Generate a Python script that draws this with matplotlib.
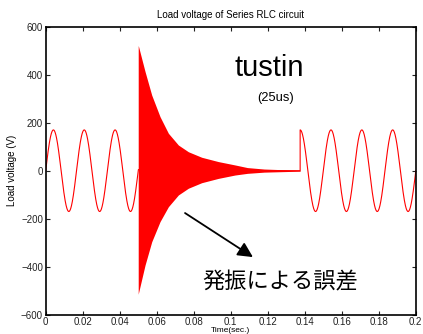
import numpy as np
import matplotlib
matplotlib.use("Agg")
import matplotlib.pyplot as plt

# ---- data ----
source_amplitude = 170.0      # V (peak of sine sections)
source_freq = 60.0            # Hz
seg1_range = (0.0, 0.05)      # s, sine before oscillation
seg2_range = (0.1375, 0.2)    # s, sine after oscillation

# envelope of the numerical oscillation (tustin, 25us)
env_t     = [0.0500, 0.0501, 0.0537, 0.0573, 0.0618, 0.0663, 0.0717, 0.0771,
             0.0843, 0.0933, 0.1023, 0.1090, 0.1180, 0.1325, 0.1375]
env_upper = [520, 520, 413, 315, 225, 156, 107, 79, 56, 38, 24, 13, 7, 3, 2]
env_lower = [-515, -511, -393, -296, -212, -150, -101, -73, -50, -32, -18, -11, -6, -3, -2]

xticks = [0, 0.02, 0.04, 0.06, 0.08, 0.1, 0.12, 0.14, 0.16, 0.18, 0.2]
xticklabels = ["0", "0.02", "0.04", "0.06", "0.08", "0.1", "0.12", "0.14", "0.16", "0.18", "0.2"]
yticks = [-600, -400, -200, 0, 200, 400, 600]
yticklabels = ["\u2212600", "\u2212400", "\u2212200", "0", "200", "400", "600"]

# ---- build series ----
t1 = np.linspace(seg1_range[0], seg1_range[1], 800)
v1 = source_amplitude * np.sin(2 * np.pi * source_freq * t1)
t2 = np.linspace(seg2_range[0], seg2_range[1], 1000)
v2 = source_amplitude * np.sin(2 * np.pi * source_freq * t2)
env_t_a = np.array(env_t)
env_mid = (np.array(env_upper) + np.array(env_lower)) / 2.0

plt.rcParams['font.family'] = ['Liberation Sans', 'DejaVu Sans']

fig = plt.figure(figsize=(4.23, 3.34), dpi=100)
ax = fig.add_axes([0.108, 0.0578, 0.875, 0.8622])

red = '#ff0000'
ax.fill_between(env_t_a, env_lower, env_upper, color=red, linewidth=0)
t_all = np.concatenate([t1, env_t_a, t2])
v_all = np.concatenate([v1, env_mid, v2])
ax.plot(t_all, v_all, color=red, linewidth=0.8)

ax.set_xlim(0, 0.2)
ax.set_ylim(-600, 600)
ax.set_xticks(xticks)
ax.set_xticklabels(xticklabels)
ax.set_yticks(yticks)
ax.set_yticklabels(yticklabels)
ax.tick_params(direction='in', length=3, width=0.8, top=True, right=True,
               labelsize=7, pad=2, colors='#222222')
ax.tick_params(axis='x', pad=1.5)
for s in ax.spines.values():
    s.set_linewidth(1.2)
    s.set_color('black')

ax.set_title("Load voltage of Series RLC circuit", fontsize=7, pad=6)
ax.set_ylabel("Load voltage (V)", fontsize=7, labelpad=3)
ax.set_xlabel("Time(sec.)", fontsize=6, labelpad=0)

ax.text(0.603, 0.857, "tustin", transform=ax.transAxes, fontsize=21,
        ha='center', va='center')
ax.text(0.622, 0.752, "(25us)", transform=ax.transAxes, fontsize=9.3,
        ha='center', va='center')
ax.text(0.633, 0.113, "発振による誤差", transform=ax.transAxes, fontsize=16,
        ha='center', va='center', family=['Noto Sans CJK JP', 'DejaVu Sans'])
ax.annotate("", xy=(0.560, 0.200), xycoords='axes fraction',
            xytext=(0.3765, 0.353), textcoords='axes fraction',
            arrowprops=dict(arrowstyle='-|>,head_length=0.9,head_width=0.45',
                            color='black', lw=1.3, shrinkA=0, shrinkB=0))

fig.savefig("out.png", dpi=100)
